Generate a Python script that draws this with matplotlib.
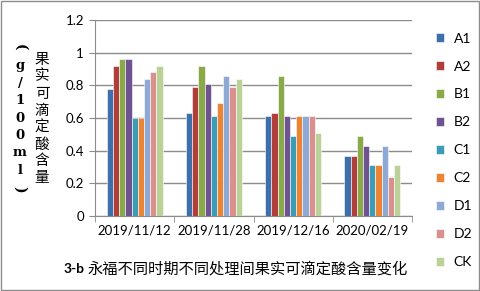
import matplotlib.pyplot as plt
import numpy as np
from matplotlib.patches import Rectangle

plt.rcParams['font.family'] = ['Lato', 'Noto Sans CJK SC', 'DejaVu Sans']

dates = ['2019/11/12', '2019/11/28', '2019/12/16', '2020/02/19']
series = ['A1', 'A2', 'B1', 'B2', 'C1', 'C2', 'D1', 'D2', 'CK']
values = {
    'A1': [0.78, 0.63, 0.61, 0.37],
    'A2': [0.92, 0.79, 0.63, 0.37],
    'B1': [0.96, 0.92, 0.86, 0.49],
    'B2': [0.96, 0.81, 0.61, 0.43],
    'C1': [0.60, 0.61, 0.49, 0.31],
    'C2': [0.60, 0.69, 0.61, 0.31],
    'D1': [0.84, 0.86, 0.61, 0.43],
    'D2': [0.88, 0.79, 0.61, 0.24],
    'CK': [0.92, 0.84, 0.51, 0.31],
}
colors = ['#3F6FAA', '#B03F3C', '#8AAA4A', '#6F5391', '#3C9BB5',
          '#EC8436', '#8DA9D4', '#D99190', '#BBD198']

fig = plt.figure(figsize=(4.8, 2.91), dpi=100)
ax = fig.add_axes([95/480, 1 - 216/291, 317/480, 196/291])

x = np.arange(len(dates))
w = 0.0785
for i, s in enumerate(series):
    ax.bar(x + (i - 4) * w, values[s], width=w, color=colors[i],
           edgecolor='white', linewidth=0.4, label=s, zorder=3)

ax.set_xlim(-0.5, 3.5)
ax.set_ylim(0, 1.2)
ax.set_yticks(np.arange(0, 1.21, 0.2))
ax.set_yticklabels(['0', '0.2', '0.4', '0.6', '0.8', '1', '1.2'])
ax.yaxis.grid(True, color='#8C8C8C', linewidth=1, zorder=0)
ax.set_xticks(x)
ax.set_xticklabels(dates)
ax.set_xticks(np.arange(-0.5, 3.6, 1), minor=True)
ax.tick_params(axis='x', which='major', length=0, labelsize=9.5, pad=6)
ax.tick_params(axis='x', which='minor', length=4, color='#8C8C8C')
ax.tick_params(axis='y', length=4, color='#8C8C8C', labelsize=9.5, pad=4)
for sp in ['top', 'right']:
    ax.spines[sp].set_visible(False)
ax.spines['left'].set_color('#8C8C8C')
ax.spines['bottom'].set_color('#8C8C8C')

# y axis title, stacked vertically
fig.text(42/480, 1 - 119/291, '\n'.join('果实可滴定酸含量'), ha='center', va='center',
         fontsize=10.5, linespacing=1.27, family=['Noto Sans CJK SC'])
fig.text(20/480, 1 - 118/291, '\n'.join('g/100ml'), ha='center', va='center',
         fontsize=9.5, fontweight='bold', linespacing=1.45, family=['DejaVu Serif'])
fig.text(20/480, 1 - 47/291, '(', rotation=-90, ha='center', va='center',
         fontsize=10, fontweight='bold', family=['DejaVu Serif'])
fig.text(20/480, 1 - 189/291, ')', rotation=-90, ha='center', va='center',
         fontsize=10, fontweight='bold', family=['DejaVu Serif'])

# legend
handles, labels = ax.get_legend_handles_labels()
fig.legend(handles, labels, loc='upper left', bbox_to_anchor=(430/480, 1 - 27/291),
           frameon=False, fontsize=10, handlelength=0.6, handleheight=0.6,
           handletextpad=0.7, labelspacing=1.15, borderaxespad=0)

# figure caption
fig.text(64/480, 1 - 269/291, '3-b', ha='left', va='center', fontsize=10,
         fontweight='bold')
fig.text(88/480, 1 - 269/291, '永福不同时期不同处理间果实可滴定酸含量变化',
         ha='left', va='center', fontsize=11, family=['Noto Sans CJK SC'])

fig.patches.append(Rectangle((0.002, 0.003), 0.995, 0.994, transform=fig.transFigure,
                             fill=False, edgecolor='#8C8C8C', linewidth=1))

fig.savefig('out.png', dpi=100)
